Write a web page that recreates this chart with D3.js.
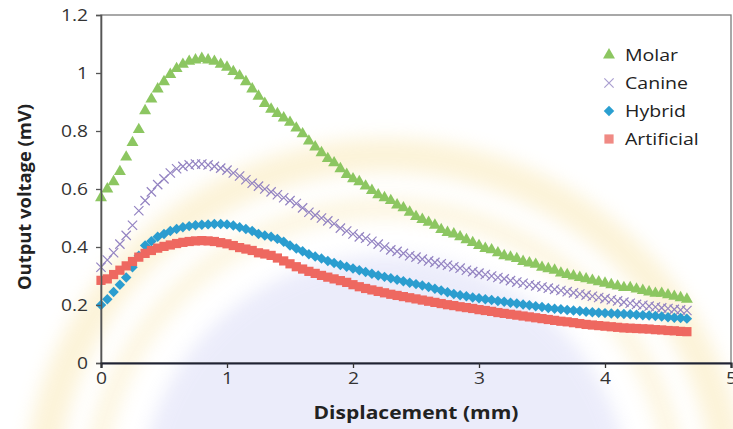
<!DOCTYPE html>
<html>
<head>
<meta charset="utf-8">
<script src="https://cdn.jsdelivr.net/npm/d3@7"></script>
<style>
  html, body { margin: 0; padding: 0; background: #fff; }
  svg { display: block; font-family: "Open Sans", "Noto Sans", sans-serif; }
</style>
</head>
<body>
<svg id="chart" width="733" height="429"></svg>
<script>
const displacement = [0,0.05,0.1,0.15,0.2,0.25,0.3,0.35,0.4,0.45,0.5,0.55,0.6,0.65,0.7,0.75,0.8,0.85,0.9,0.95,
1,1.05,1.1,1.15,1.2,1.25,1.3,1.35,1.4,1.45,1.5,1.55,1.6,1.65,1.7,1.75,1.8,1.85,1.9,1.95,
2,2.05,2.1,2.15,2.2,2.25,2.3,2.35,2.4,2.45,2.5,2.55,2.6,2.65,2.7,2.75,2.8,2.85,2.9,2.95,
3,3.05,3.1,3.15,3.2,3.25,3.3,3.35,3.4,3.45,3.5,3.55,3.6,3.65,3.7,3.75,3.8,3.85,3.9,3.95,
4,4.05,4.1,4.15,4.2,4.25,4.3,4.35,4.4,4.45,4.5,4.55,4.6,4.65];

const molar = [0.57,0.6,0.625,0.66,0.71,0.76,0.805,0.87,0.91,0.945,0.97,0.995,1.015,1.03,1.04,1.045,1.05,1.045,1.04,1.03,
1.02,1.005,0.99,0.97,0.945,0.92,0.895,0.875,0.86,0.845,0.83,0.81,0.79,0.765,0.745,0.725,0.705,0.69,0.67,0.65,
0.635,0.625,0.61,0.595,0.58,0.57,0.56,0.545,0.535,0.52,0.505,0.495,0.485,0.475,0.46,0.45,0.445,0.435,0.425,0.415,
0.405,0.395,0.39,0.38,0.37,0.365,0.36,0.35,0.345,0.34,0.33,0.325,0.32,0.31,0.305,0.3,0.295,0.29,0.285,0.28,
0.275,0.27,0.265,0.26,0.26,0.255,0.25,0.245,0.24,0.24,0.235,0.23,0.225,0.22];

const canine = [0.33,0.355,0.38,0.41,0.44,0.475,0.525,0.56,0.59,0.615,0.635,0.655,0.67,0.678,0.683,0.686,0.686,0.683,0.678,0.672,
0.665,0.655,0.645,0.632,0.62,0.61,0.6,0.59,0.58,0.57,0.56,0.55,0.535,0.52,0.51,0.5,0.49,0.48,0.465,0.455,
0.445,0.435,0.43,0.42,0.41,0.4,0.39,0.385,0.378,0.37,0.365,0.358,0.352,0.347,0.342,0.337,0.332,0.327,0.32,0.315,
0.31,0.305,0.3,0.295,0.29,0.284,0.279,0.275,0.27,0.266,0.262,0.258,0.254,0.25,0.246,0.242,0.238,0.234,0.23,0.226,
0.222,0.218,0.214,0.21,0.206,0.202,0.199,0.196,0.193,0.19,0.188,0.185,0.183,0.181];

const hybrid = [0.2,0.22,0.245,0.27,0.295,0.33,0.37,0.405,0.42,0.435,0.445,0.455,0.462,0.468,0.472,0.475,0.477,0.478,0.479,0.479,
0.478,0.474,0.468,0.462,0.455,0.445,0.44,0.435,0.428,0.418,0.405,0.395,0.385,0.375,0.367,0.36,0.352,0.345,0.338,0.332,
0.326,0.32,0.314,0.308,0.302,0.297,0.292,0.287,0.282,0.277,0.272,0.267,0.262,0.256,0.25,0.244,0.238,0.234,0.23,0.226,
0.223,0.22,0.217,0.214,0.211,0.208,0.205,0.202,0.199,0.196,0.193,0.19,0.187,0.185,0.183,0.181,0.179,0.177,0.175,0.173,
0.172,0.171,0.17,0.169,0.168,0.166,0.165,0.164,0.162,0.16,0.158,0.156,0.155,0.153];

const artificial = [0.285,0.29,0.305,0.32,0.335,0.35,0.365,0.378,0.388,0.396,0.402,0.407,0.412,0.416,0.419,0.421,0.422,0.421,0.419,0.415,
0.411,0.405,0.398,0.393,0.388,0.38,0.376,0.371,0.362,0.352,0.342,0.332,0.324,0.316,0.309,0.302,0.296,0.29,0.284,0.278,
0.27,0.263,0.257,0.252,0.247,0.242,0.237,0.233,0.229,0.225,0.221,0.217,0.213,0.209,0.205,0.201,0.198,0.194,0.191,0.188,
0.184,0.181,0.178,0.174,0.171,0.168,0.165,0.162,0.159,0.156,0.153,0.15,0.147,0.144,0.142,0.139,0.136,0.133,0.131,0.129,
0.127,0.125,0.123,0.121,0.12,0.119,0.118,0.117,0.115,0.114,0.112,0.111,0.109,0.108];

const seriesNames = ["Molar", "Canine", "Hybrid", "Artificial"];
const xTicks = [0, 1, 2, 3, 4, 5];
const yTicks = [0, 0.2, 0.4, 0.6, 0.8, 1, 1.2];
const xTitle = "Displacement (mm)";
const yTitle = "Output voltage (mV)";

const series = [
  {name: seriesNames[0], values: molar, color: "#8cc661", symbol: d3.symbolTriangle, size: 62},
  {name: seriesNames[1], values: canine, color: "#9484c2", symbol: d3.symbolTimes, size: 58},
  {name: seriesNames[2], values: hybrid, color: "#2b9dcf", symbol: d3.symbolDiamond2, size: 70},
  {name: seriesNames[3], values: artificial, color: "#ee6860", symbol: d3.symbolSquare, size: 85}
];
const legendColors = {"Molar": "#8cc661", "Canine": "#a99ed0", "Hybrid": "#2a9fd0", "Artificial": "#f08a84"};

const svg = d3.select("#chart");
const L = 101, T = 15, R = 731, B = 363;
const x = d3.scaleLinear().domain([0, 5]).range([L, R]);
const y = d3.scaleLinear().domain([0, 1.2]).range([B, T]);

// faint, blurred watermark-like background
const defs = svg.append("defs");
defs.append("filter").attr("id", "blur").attr("x", "-20%").attr("y", "-20%").attr("width", "140%").attr("height", "140%")
  .append("feGaussianBlur").attr("stdDeviation", 9);
const wm = svg.append("g").attr("opacity", 0.4).attr("filter", "url(#blur)");
wm.append("circle").attr("cx", 385).attr("cy", 500).attr("r", 345)
  .attr("fill", "none").attr("stroke", "#f8e2a0").attr("stroke-width", 34);
wm.append("circle").attr("cx", 385).attr("cy", 500).attr("r", 292)
  .attr("fill", "none").attr("stroke", "#f9e7b0").attr("stroke-width", 20);
wm.append("circle").attr("cx", 385).attr("cy", 500).attr("r", 245)
  .attr("fill", "#cfd0f4");

// plot frame (top/right)
svg.append("rect").attr("x", L).attr("y", T).attr("width", R - L).attr("height", B - T)
  .attr("fill", "none").attr("stroke", "#7a7a7a").attr("stroke-width", 1.3);

// series
series.forEach(s => {
  const g = svg.append("g");
  const pts = displacement.map((d, i) => [d, s.values[i]]);
  const sym = d3.symbol().type(s.symbol).size(s.size);
  g.selectAll("path").data(pts).join("path")
    .attr("transform", d => `translate(${x(d[0])},${y(d[1])})`)
    .attr("d", sym)
    .attr("fill", s.symbol === d3.symbolTimes ? "none" : s.color)
    .attr("stroke", s.symbol === d3.symbolTimes ? s.color : "none")
    .attr("stroke-width", 1.2);
});

// axes
const fmt = d3.format("");
const yAxis = d3.axisLeft(y).tickValues(yTicks).tickSize(5).tickPadding(8).tickFormat(fmt);
const gy = svg.append("g").attr("transform", `translate(${L},0)`).call(yAxis);
gy.select(".domain").attr("stroke", "#555").attr("stroke-width", 1.6);
gy.selectAll(".tick line").attr("stroke", "#555").attr("stroke-width", 1.3);
gy.selectAll(".tick text").attr("font-size", 16).attr("fill", "#333").attr("font-family", "'Open Sans', sans-serif");

const xAxis = d3.axisBottom(x).tickValues(xTicks).tickSize(5).tickPadding(5).tickFormat(fmt);
const gx = svg.append("g").attr("transform", `translate(0,${B})`).call(xAxis);
gx.select(".domain").attr("stroke", "#1f2233").attr("stroke-width", 2.2);
gx.selectAll(".tick line").attr("stroke", "#333").attr("stroke-width", 1.3);
gx.selectAll(".tick text").attr("font-size", 16).attr("fill", "#333").attr("font-family", "'Open Sans', sans-serif");

// axis titles
const xt = svg.append("text").attr("x", 416).attr("y", 419).attr("text-anchor", "middle")
  .attr("font-size", 17.5).attr("font-weight", "bold").attr("fill", "#222").text(xTitle);
const yt = svg.append("text").attr("transform", `translate(31,${197}) rotate(-90)`).attr("text-anchor", "middle")
  .attr("font-size", 17).attr("font-weight", "bold").attr("fill", "#222").text(yTitle);

// legend
const lg = svg.append("g");
series.forEach((s, i) => {
  const cy = 55 + i * 28;
  lg.append("path").attr("transform", `translate(609,${cy})`)
    .attr("d", d3.symbol().type(s.symbol).size(s.size))
    .attr("fill", s.symbol === d3.symbolTimes ? "none" : legendColors[s.name])
    .attr("stroke", s.symbol === d3.symbolTimes ? legendColors[s.name] : "none")
    .attr("stroke-width", 1.2);
  lg.append("text").attr("x", 625).attr("y", cy + 5.5).attr("font-size", 15.5).attr("fill", "#222").text(s.name);
});

// horizontal stretch of text to match the reference's wide lettering
function stretch(sel, f) {
  sel.each(function() {
    const w = this.getComputedTextLength();
    d3.select(this).attr("textLength", w * f).attr("lengthAdjust", "spacingAndGlyphs");
  });
}
stretch(gy.selectAll(".tick text"), 1.2);
stretch(gx.selectAll(".tick text"), 1.2);
stretch(lg.selectAll("text"), 1.26);
stretch(xt, 1.2);
yt.attr("textLength", 186).attr("lengthAdjust", "spacingAndGlyphs");
</script>
</body>
</html>
